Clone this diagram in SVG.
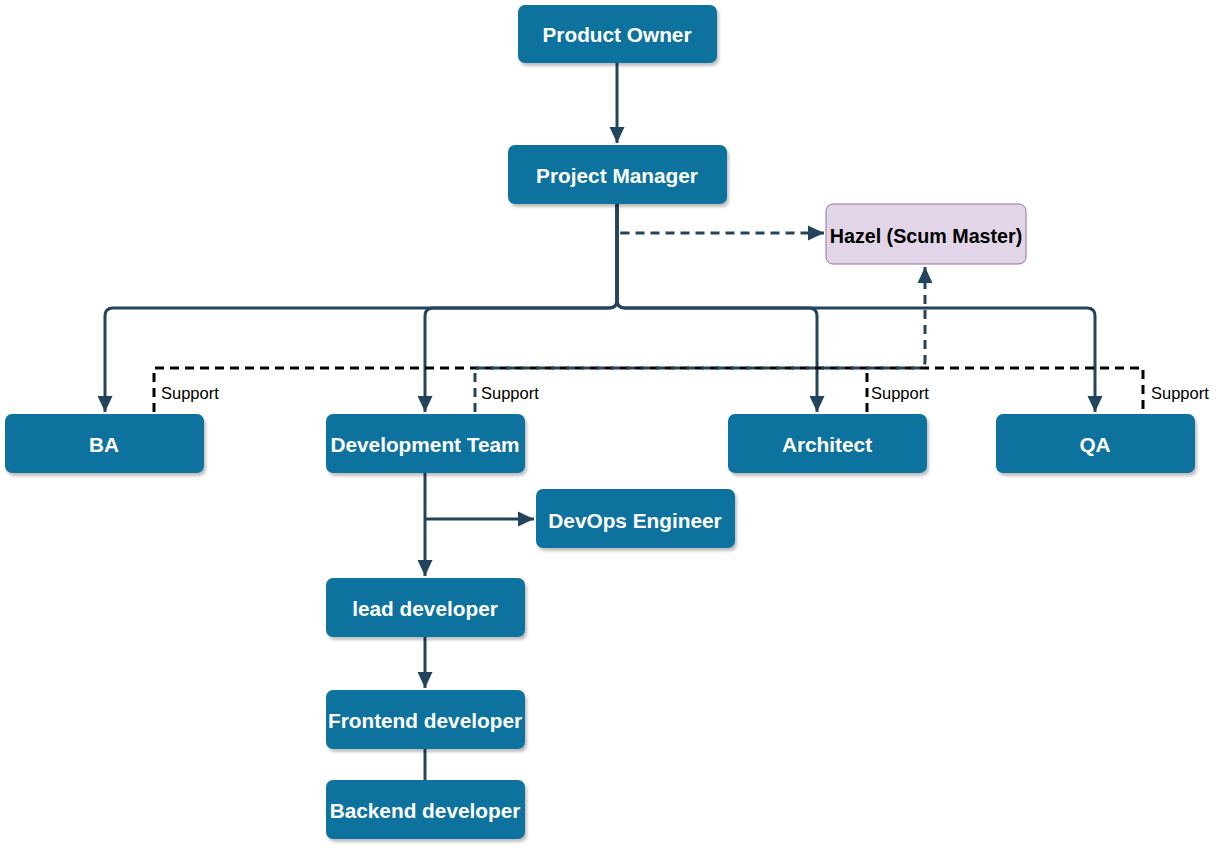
<svg xmlns="http://www.w3.org/2000/svg" width="1221" height="848" viewBox="0 0 1221 848">
<style>
.node rect{fill:#10739E;stroke:none;filter:url(#sh)}
.node text{fill:#fff;font-family:"Liberation Sans",Arial,sans-serif;font-weight:bold;font-size:20.8px;text-anchor:middle}
.e{fill:none;stroke:#23445D;stroke-width:3}
.d{fill:none;stroke:#23445D;stroke-width:3;stroke-dasharray:9 6}
.k{fill:none;stroke:#000;stroke-width:3;stroke-dasharray:9 6}
.lbl{font-family:"Liberation Sans",Arial,sans-serif;font-size:16.5px;fill:#000}
</style>
<defs>
<filter id="sh" x="-10%" y="-10%" width="130%" height="140%">
<feDropShadow dx="2" dy="3" stdDeviation="1.5" flood-color="#000" flood-opacity="0.25"/>
</filter>
<marker id="ar" markerUnits="userSpaceOnUse" markerWidth="18" markerHeight="18" viewBox="0 0 18 18" refX="17" refY="9" orient="auto">
<path d="M1,1.5 L17,9 L1,16.5 Z" fill="#23445D"/>
</marker>
</defs>
<rect width="1221" height="848" fill="#fff"/>
<g id="connectors">
<path class="e" d="M617,63 V143" marker-end="url(#ar)"/>
<path class="e" d="M617,204 V300 Q617,308 609,308 H113 Q105,308 105,316 V412" marker-end="url(#ar)"/>
<path class="e" d="M617,204 V300 Q617,308 609,308 H433 Q425,308 425,316 V412" marker-end="url(#ar)"/>
<path class="e" d="M617,204 V300 Q617,308 625,308 H809 Q817,308 817,316 V412" marker-end="url(#ar)"/>
<path class="e" d="M617,204 V300 Q617,308 625,308 H1087 Q1095,308 1095,316 V412" marker-end="url(#ar)"/>
<path class="d" d="M617,204 V227 Q617,233 623,233 H824" marker-end="url(#ar)"/>
<path class="k" d="M154,412 V368 H1143 V412"/>
<path class="k" d="M867,412 V368"/>
<path class="d" d="M475,412 V368 H918 Q925,368 925,361 V267" marker-end="url(#ar)"/>
<path class="e" d="M425,473 V576" marker-end="url(#ar)"/>
<path class="e" d="M425,519 H534" marker-end="url(#ar)"/>
<path class="e" d="M425,637 V688" marker-end="url(#ar)"/>
<path class="e" d="M425,749 V780"/>
<text class="lbl" x="161" y="399">Support</text>
<text class="lbl" x="481" y="399">Support</text>
<text class="lbl" x="871" y="399">Support</text>
<text class="lbl" x="1151" y="399">Support</text>
</g>
<g id="product-owner" class="node"><rect x="518" y="5" width="199" height="58" rx="7"/><text x="617" y="42">Product Owner</text></g>
<g id="project-manager" class="node"><rect x="508" y="145" width="219" height="59" rx="7"/><text x="617" y="183">Project Manager</text></g>
<g id="hazel"><rect x="826" y="204" width="200" height="60" rx="7" fill="#e1d5e7" stroke="#9673a6" stroke-width="1"/><text x="926" y="243" font-family="Liberation Sans,Arial,sans-serif" font-weight="bold" font-size="19.7" text-anchor="middle" fill="#000">Hazel (Scum Master)</text></g>
<g id="ba" class="node"><rect x="5" y="414" width="199" height="59" rx="7"/><text x="104" y="452">BA</text></g>
<g id="dev-team" class="node"><rect x="326" y="414" width="199" height="59" rx="7"/><text x="425" y="452">Development Team</text></g>
<g id="architect" class="node"><rect x="728" y="414" width="199" height="59" rx="7"/><text x="827" y="452">Architect</text></g>
<g id="qa" class="node"><rect x="996" y="414" width="199" height="59" rx="7"/><text x="1095" y="452">QA</text></g>
<g id="devops" class="node"><rect x="536" y="489" width="199" height="59" rx="7"/><text x="635" y="528">DevOps Engineer</text></g>
<g id="lead-dev" class="node"><rect x="326" y="578" width="199" height="59" rx="7"/><text x="425" y="616">lead developer</text></g>
<g id="frontend" class="node"><rect x="326" y="690" width="199" height="59" rx="7"/><text x="425" y="728">Frontend developer</text></g>
<g id="backend" class="node"><rect x="326" y="780" width="199" height="59" rx="7"/><text x="425" y="818">Backend developer</text></g>
</svg>
